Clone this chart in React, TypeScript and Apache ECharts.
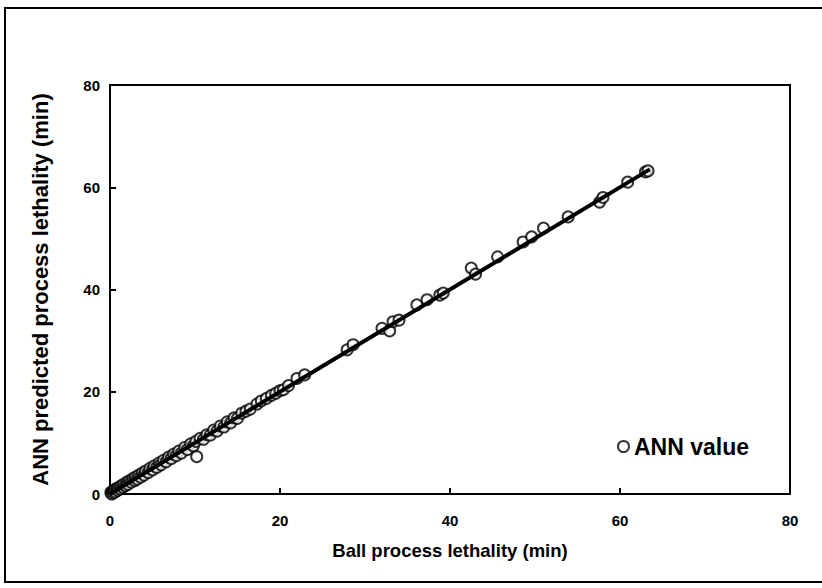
import React, { useEffect, useRef } from "react";
import * as echarts from "echarts";

const xTicks = [0, 20, 40, 60, 80];
const ballLethality = [
  0.1, 0.2, 0.3, 0.4, 0.5, 0.6, 0.8, 0.9, 1.0, 1.2, 1.3, 1.5, 1.6, 1.8, 2.0, 2.1, 2.3, 2.5, 2.7, 2.9,
  3.0, 3.2, 3.4, 3.6, 3.8, 4.0, 4.2, 4.5, 4.7, 5.0, 5.2, 5.5, 5.8, 6.0, 6.3, 6.6, 6.9, 7.2, 7.5, 7.8,
  8.1, 8.4, 8.8, 9.1, 9.5, 9.8, 10.1, 10.2, 10.6, 11.0, 11.4, 11.8, 12.2, 12.6, 13.0, 13.4, 13.8, 14.2,
  14.6, 15.0, 15.5, 16.0, 16.5, 17.3, 17.8, 18.4, 19.0, 19.5, 20.0, 20.4, 21.0, 22.0, 22.9,
  27.9, 28.6, 32.0, 32.9, 33.3, 34.0, 36.1, 37.3, 38.8, 39.2, 42.5, 43.0, 45.6, 48.6, 49.6, 51.0,
  53.9, 57.6, 58.0, 60.9, 63.0, 63.3,
];
const annPredicted = [
  0.3, 0.0, 0.5, 0.2, 0.8, 0.4, 1.1, 0.7, 1.2, 1.0, 1.6, 1.3, 1.9, 1.6, 2.3, 1.9, 2.6, 2.3, 3.0, 2.6,
  3.3, 2.9, 3.7, 3.3, 4.1, 3.7, 4.5, 4.2, 5.0, 4.7, 5.5, 5.2, 6.1, 5.7, 6.6, 6.3, 7.2, 6.9, 7.8, 7.5,
  8.4, 8.0, 9.1, 8.7, 9.8, 9.4, 10.3, 7.3, 10.9, 10.7, 11.6, 11.5, 12.5, 12.3, 13.3, 13.1, 14.1, 13.9,
  14.9, 14.8, 15.8, 16.2, 16.6, 17.6, 18.2, 18.7, 19.3, 19.7, 20.2, 20.4, 21.2, 22.6, 23.3,
  28.2, 29.2, 32.4, 31.9, 33.7, 34.0, 37.0, 38.0, 38.9, 39.3, 44.2, 43.0, 46.4, 49.3, 50.3, 52.0,
  54.2, 57.1, 58.0, 61.0, 63.0, 63.2,
];
const fitLineX = [0, 63.5];
const fitLineY = [0, 63.5];

export default function App() {
  const ref = useRef<HTMLDivElement>(null);
  useEffect(() => {
    if (!ref.current) return;
    const chart = echarts.init(ref.current, undefined, { renderer: "svg" });
    const font = "Liberation Sans, Arial, sans-serif";
    const axisCommon = {
      type: "value" as const,
      min: 0,
      max: 80,
      interval: 20,
      axisLine: { show: true, lineStyle: { color: "#000", width: 2 } },
      axisTick: { show: true, inside: true, length: 6, lineStyle: { color: "#000", width: 2 } },
      splitLine: { show: false },
      nameLocation: "middle" as const,
    };
    chart.setOption({
      animation: false,
      backgroundColor: "#fff",
      grid: { left: 110, right: 32, top: 85, bottom: 94, show: true, borderColor: "#000", borderWidth: 2, backgroundColor: "transparent" },
      xAxis: {
        ...axisCommon,
        name: "Ball process lethality (min)",
        nameGap: 47,
        nameTextStyle: { color: "#000", fontSize: 18.5, fontWeight: "bold", fontFamily: font },
        axisLabel: { color: "#000", fontSize: 15, fontWeight: "bold", fontFamily: font, margin: 19, formatter: (v: number) => (xTicks.includes(v) ? String(v) : "") },
      },
      yAxis: {
        ...axisCommon,
        name: "ANN predicted process lethality (min)",
        nameGap: 59,
        nameTextStyle: { color: "#000", fontSize: 22, fontWeight: "bold", fontFamily: font },
        axisLabel: { color: "#000", fontSize: 15, fontWeight: "bold", fontFamily: font, margin: 10 },
      },
      legend: {
        left: 612,
        top: 430,
        itemWidth: 11,
        itemHeight: 11,
        itemGap: 4,
        textStyle: { color: "#000", fontSize: 23, fontWeight: "bold", fontFamily: font },
        data: [{ name: "ANN value", icon: "emptyCircle", itemStyle: { borderWidth: 2.5 } }],
      },
      graphic: [
        {
          type: "rect",
          shape: { x: 5, y: 8, width: 840, height: 574 },
          style: { fill: "none", stroke: "#000", lineWidth: 2 },
          silent: true,
          z: 100,
        },
      ],
      series: [
        {
          name: "fit",
          type: "line",
          data: fitLineX.map((x, i) => [x, fitLineY[i]]),
          showSymbol: false,
          symbol: "none",
          lineStyle: { color: "#000", width: 4 },
          z: 3,
        },
        {
          name: "ANN value",
          type: "scatter",
          data: ballLethality.map((x, i) => [x, annPredicted[i]]),
          symbol: "emptyCircle",
          symbolSize: 11,
          itemStyle: { color: "#000", borderWidth: 3 },
          z: 2,
        },
      ],
    });
    return () => chart.dispose();
  }, []);
  return <div ref={ref} style={{ position: "fixed", left: 0, top: 0, width: 822, height: 588 }} />;
}
